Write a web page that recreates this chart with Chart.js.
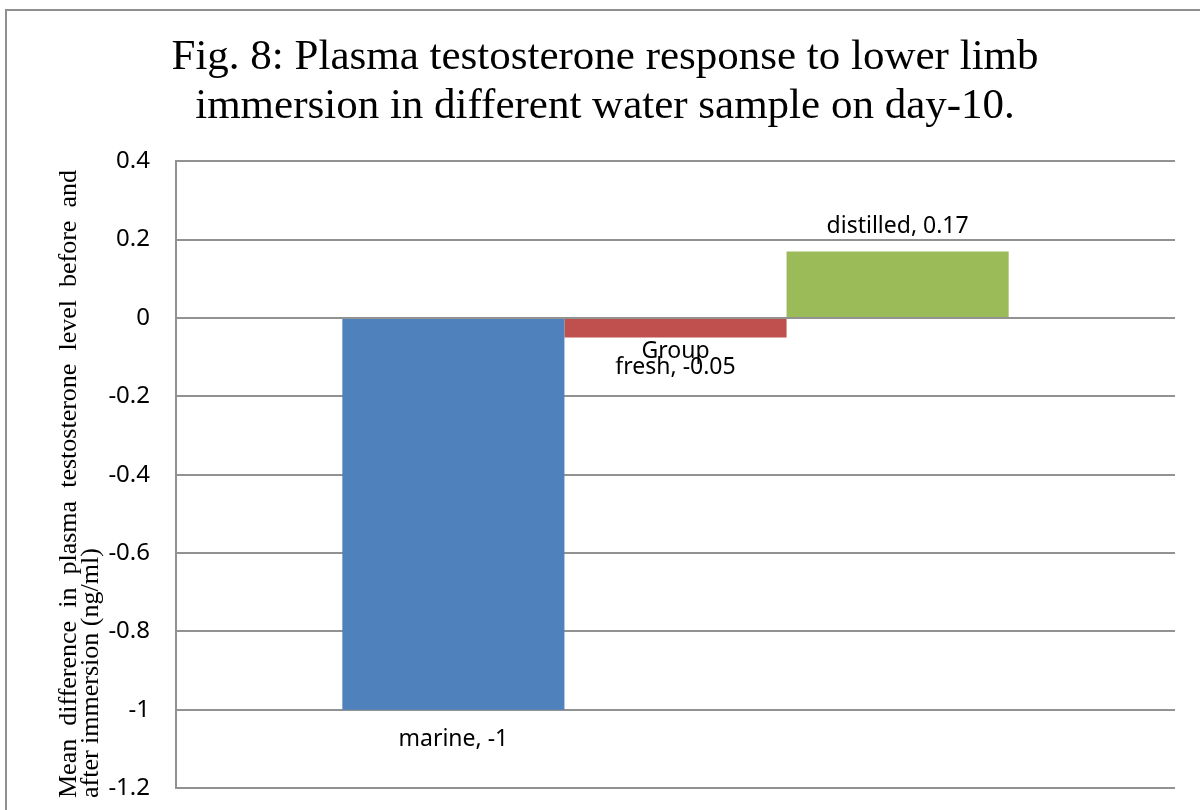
<!DOCTYPE html>
<html>
<head>
<meta charset="utf-8">
<title>Fig. 8</title>
<script src="https://cdn.jsdelivr.net/npm/chart.js@4/dist/chart.umd.min.js"></script>
<style>
  html, body { margin: 0; padding: 0; background: #fff; }
  #wrap { width: 1200px; height: 810px; position: relative; }
</style>
</head>
<body>
<div id="wrap"><canvas id="myChart" width="1200" height="810"></canvas></div>
<script>
// data
var categories = ['Group'];
var seriesNames = ['marine', 'fresh', 'distilled'];
var seriesValues = [-1, -0.05, 0.17];
var seriesColors = ['#4F81BD', '#C0504D', '#9BBB59'];
var yMin = -1.2, yMax = 0.4, yStep = 0.2;

var titleLines = ['Fig. 8: Plasma testosterone response to lower limb',
                  'immersion in different water sample on day-10.'];
var yTitleLines = ['Mean difference in plasma testosterone level before and',
                   'after immersion (ng/ml)'];

var gridColor = '#929292';
var sansFont = "'Noto Sans', 'Open Sans', sans-serif";
var serifFont = "'Liberation Serif', 'DejaVu Serif', serif";

// outer frame (only top and left edges are visible in the crop)
var framePlugin = {
    id: 'frame',
    beforeDraw: function (chart) {
        var ctx = chart.ctx;
        ctx.save();
        ctx.fillStyle = '#fff';
        ctx.fillRect(0, 0, chart.width, chart.height);
        ctx.strokeStyle = '#8f8f8f';
        ctx.lineWidth = 2;
        ctx.beginPath();
        ctx.moveTo(6, chart.height);
        ctx.lineTo(6, 10);
        ctx.lineTo(chart.width, 10);
        ctx.stroke();
        ctx.restore();
    }
};

// category label sits on the zero line (horizontal axis crosses at 0)
var categoryLabelPlugin = {
    id: 'catLabels',
    afterDatasetsDraw: function (chart) {
        var ctx = chart.ctx;
        var xs = chart.scales.x, ys = chart.scales.y;
        var y0 = ys.getPixelForValue(0);
        ctx.save();
        ctx.font = '23px ' + sansFont;
        ctx.fillStyle = '#000';
        ctx.textAlign = 'center';
        ctx.textBaseline = 'middle';
        categories.forEach(function (c, i) {
            ctx.fillText(c, xs.getPixelForTick(i), y0 + 33);
        });
        ctx.restore();
    }
};

// "name, value" labels at the outer end of every bar
var barLabelPlugin = {
    id: 'barLabels',
    afterDatasetsDraw: function (chart) {
        var ctx = chart.ctx;
        ctx.save();
        ctx.font = '23px ' + sansFont;
        ctx.fillStyle = '#000';
        ctx.textAlign = 'center';
        ctx.textBaseline = 'middle';
        chart.data.datasets.forEach(function (ds, i) {
            var bar = chart.getDatasetMeta(i).data[0];
            var v = ds.data[0];
            var y = v < 0 ? bar.y + 30 : bar.y - 25;
            ctx.fillText(ds.label + ', ' + v, bar.x, y);
        });
        ctx.restore();
    }
};

// rotated, two-line y axis title; first line is justified like in Word
var yTitlePlugin = {
    id: 'yTitle',
    afterDraw: function (chart) {
        var ctx = chart.ctx;
        var start = 798;
        var len = start - 170;
        ctx.save();
        ctx.font = '26px ' + serifFont;
        ctx.fillStyle = '#000';
        ctx.textBaseline = 'alphabetic';
        ctx.textAlign = 'left';

        // line 1
        ctx.save();
        ctx.translate(76, start);
        ctx.rotate(-Math.PI / 2);
        var words = yTitleLines[0].split(' ');
        var total = 0;
        words.forEach(function (w) { total += ctx.measureText(w).width; });
        var gap = (len - total) / (words.length - 1);
        var x = 0;
        words.forEach(function (w) {
            ctx.fillText(w, x, 0);
            x += ctx.measureText(w).width + gap;
        });
        ctx.restore();

        // line 2
        ctx.save();
        ctx.translate(98, start);
        ctx.rotate(-Math.PI / 2);
        ctx.fillText(yTitleLines[1], 0, 0);
        ctx.restore();
        ctx.restore();
    }
};

var datasets = seriesNames.map(function (name, i) {
    return {
        label: name,
        data: [seriesValues[i]],
        backgroundColor: seriesColors[i],
        borderWidth: 0
    };
});

var ctx = document.getElementById('myChart').getContext('2d');
var myChart = new Chart(ctx, {
    type: 'bar',
    data: {
        labels: categories,
        datasets: datasets
    },
    options: {
        responsive: false,
        animation: false,
        events: [],
        layout: {
            padding: { left: 35, right: 25, top: 0, bottom: 22 }
        },
        datasets: {
            bar: { categoryPercentage: 0.667, barPercentage: 1 }
        },
        plugins: {
            legend: { display: false },
            tooltip: { enabled: false },
            title: {
                display: true,
                text: titleLines,
                color: '#000',
                font: { family: serifFont, size: 43, weight: 'normal', lineHeight: 1.12 },
                padding: { top: 34, bottom: 31 }
            }
        },
        scales: {
            x: {
                display: false
            },
            y: {
                min: yMin,
                max: yMax,
                ticks: {
                    stepSize: yStep,
                    color: '#000',
                    font: { family: sansFont, size: 24 },
                    padding: 4,
                    callback: function (v) { return Math.round(v * 10) / 10; }
                },
                grid: {
                    color: gridColor,
                    lineWidth: 2,
                    drawTicks: true,
                    tickLength: 22,
                    tickColor: 'rgba(0,0,0,0)'
                },
                border: { display: true, color: gridColor, width: 2 },
                afterFit: function (scale) { scale.width = 141; }
            }
        }
    },
    plugins: [framePlugin, categoryLabelPlugin, barLabelPlugin, yTitlePlugin]
});
</script>
</body>
</html>
